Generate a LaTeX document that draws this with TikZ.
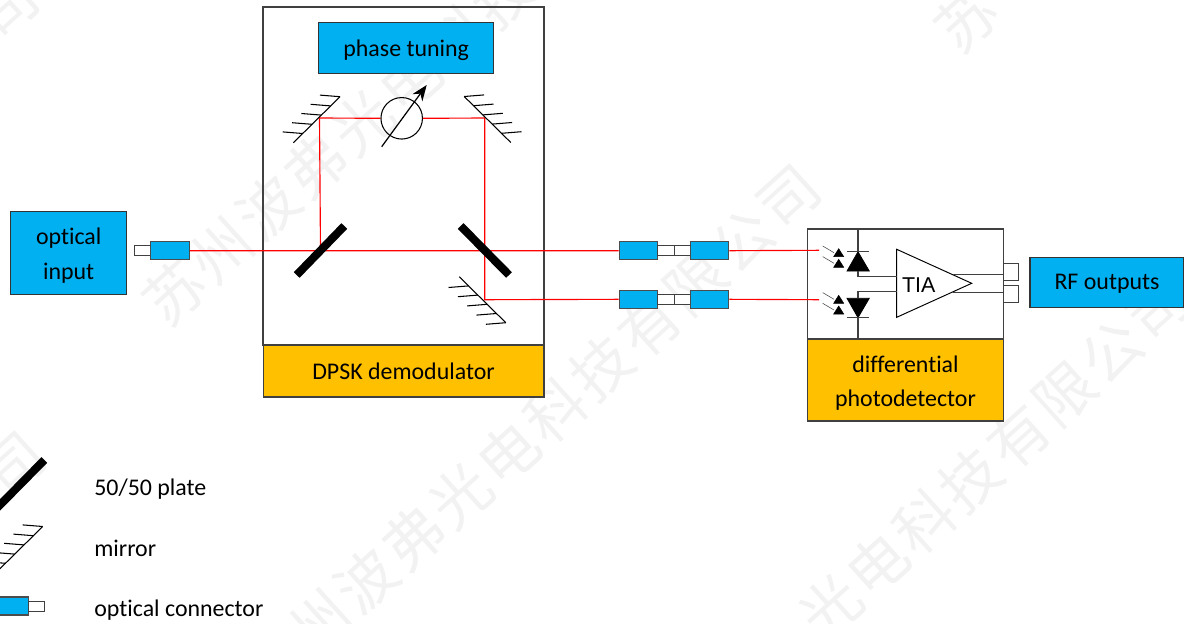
\documentclass[tikz,border=0pt]{standalone}
\usepackage{fontspec}
\usetikzlibrary{arrows.meta}
\setmainfont[Ligatures=NoCommon]{Carlito}
\newfontfamily\markfont{Noto Sans CJK SC}
\newfontfamily\arialfont{Liberation Sans}
\definecolor{boxblue}{HTML}{00B0F0}
\definecolor{boxorange}{HTML}{FFC000}
\definecolor{framegray}{HTML}{404040}
\definecolor{markgray}{HTML}{F2F2F2}
\newcommand{\toppad}[1]{\rule{0pt}{#1}}
\tikzset{
  bluebox/.style={draw=black!80, fill=boxblue, line width=.6pt, inner sep=0pt, align=center, font=\fontsize{13.6}{19.5}\selectfont},
  orangebox/.style={draw=framegray, fill=boxorange, line width=.6pt, inner sep=0pt, align=center, font=\fontsize{13.6}{19.5}\selectfont},
  framebox/.style={draw=framegray, line width=.75pt, inner sep=0pt},
  conblue/.style={draw=black!70, fill=boxblue, line width=.6pt, inner sep=0pt, minimum width=.77cm, minimum height=.36cm},
  constub/.style={draw=framegray, fill=white, line width=.5pt, inner sep=0pt, minimum width=.33cm, minimum height=.2cm},
  beam/.style={red, line width=.65pt},
  wire/.style={framegray, line width=.7pt},
  plate/.style={black, line width=4.6pt},
  legendtext/.style={anchor=west, inner sep=0pt, font=\fontsize{13.6}{15}\selectfont},
  mirror/.pic={
    \draw[black, line width=.6pt] (23.3,-23) -- (-23.3,23);
    \foreach \t in {0,.2,.4,.6,.8}
      \draw[black, line width=.6pt] (23.3-46.6*\t,-23+46*\t) -- ++(-20,-1.6);
  }
}
\begin{document}
\begin{tikzpicture}[x=.02cm,y=-.02cm]
\useasboundingbox (0,0) rectangle (1184,623);
\clip (0,0) rectangle (1184,623);
% watermark
\foreach \sx/\sy/\txt in {175/293/{苏,州,波,弗,光,电,科,技},320/623/{州,波,弗,光,电,科,技,有,限,公,司},830/607/{光,电,科,技,有,限,公,司},967/20/{苏},15/465/{司},8/8/{司}}
  \foreach \ch [count=\i from 0] in \txt
    \node[rotate=42, text=markgray, font=\markfont\fontsize{34}{34}\selectfont] at (\sx+47*\i,\sy-42.5*\i) {\ch};
% demodulator
\node[framebox, minimum width=5.62cm, minimum height=6.76cm] (demod) at (403.5,176) {};
\node[orangebox, minimum width=5.62cm, minimum height=1.04cm] (demodlabel) at (403.5,371) {DPSK demodulator};
\node[bluebox, minimum width=3.51cm, minimum height=1.03cm] (phase) at (406.2,48.2) {\toppad{11.6pt}phase tuning};
% detector
\node[framebox, minimum width=3.91cm, minimum height=2.2cm] (det) at (905.5,284) {};
\node[orangebox, minimum width=3.91cm, minimum height=1.64cm] (detlabel) at (905.5,380) {\toppad{13pt}differential\\photodetector};
% outer boxes
\node[bluebox, minimum width=2.33cm, minimum height=1.66cm] (input) at (68.7,252.8) {\toppad{12.7pt}optical\\input};
\node[bluebox, minimum width=3.08cm, minimum height=1cm] (rf) at (1107,282.5) {\toppad{9.8pt}RF outputs};
% connectors
\node[constub] (instub) at (142.7,250.2) {};
\node[conblue] (incon) at (170,250.8) {};
\node[conblue] (upa) at (638.5,250.7) {};
\node[constub] (upb) at (666,250.5) {};
\node[constub] (upc) at (682.3,250.5) {};
\node[conblue] (upd) at (709.5,250.7) {};
\node[conblue] (loa) at (638.5,299.3) {};
\node[constub] (lob) at (666,299) {};
\node[constub] (loc) at (682.3,299) {};
\node[conblue] (lod) at (709.5,299.3) {};
% beam points
\coordinate (platel) at (320.5,250.3);
\coordinate (plater) at (484.7,250.3);
\coordinate (mirtl) at (319.5,118);
\coordinate (mirtr) at (484.7,118);
\coordinate (mirb) at (484.7,299.7);
\coordinate (inup) at (819,250.3);
\coordinate (inlo) at (819,299.7);
% shifter
\node[circle, draw=black, line width=.6pt, inner sep=0pt, minimum size=.83cm] (shift) at (401.7,118.3) {};
% beams
\draw[beam] (incon.east) -- (upa.west);
\draw[beam] (platel) -- (mirtl) -- (shift.west);
\draw[beam] (shift.east) -- (mirtr) -- (mirb) -- (loa.west);
\draw[beam] (upd.east) -- (inup);
\draw[beam] (lod.east) -- (inlo);
\coordinate (arrowa) at (381.7,146.7);
\coordinate (arrowb) at (426.7,85);
\draw[-{Stealth[length=9pt,width=7pt]}, black, line width=.7pt] (arrowa) -- (arrowb);
% mirrors and plates
\pic at (316.7,119.7) {mirror};
\pic[xscale=-1] at (487.5,119.5) {mirror};
\pic[yscale=-1] at (482.5,299.7) {mirror};
\draw[plate] (344.3,226) -- (296.7,275);
\draw[plate] (460.7,226) -- (509,275);
% photodiodes
\draw[fill=black, line width=.4pt] (858,251.7) -- (869.3,271) -- (847,271) -- cycle;
\draw[fill=black, line width=.4pt] (858,317.7) -- (869.3,298.3) -- (847,298.3) -- cycle;
\draw[wire] (847,251.7) -- (869.3,251.7);
\draw[wire] (847,317.7) -- (869.3,317.7);
\foreach \yy in {252.7,263.3,299.3,310}{
  \draw[fill=black, line width=.3pt] (838.7,\yy-4) -- (843.7,\yy+4) -- (833.7,\yy+4) -- cycle;
  \draw[framegray, line width=.3pt] (822.7,\yy-6.7) -- (834,\yy);
}
% amplifier
\node[draw=none, inner sep=0pt] (tia) at (918.7,285.5) {\arialfont\fontsize{12.2}{14}\selectfont TIA};
\coordinate (ampa) at (896.7,249.3);
\coordinate (ampb) at (896.7,317.3);
\coordinate (ampc) at (971.7,283.3);
\draw[black, line width=.55pt] (ampa) -- (ampc) -- (ampb) -- cycle;
\draw[wire] (858,229) -- (858,251.7);
\draw[wire] (858,271) -- (858,276.7) -- (896.7,276.7);
\draw[wire] (896.7,291.3) -- (858,291.3) -- (858,298.3);
\draw[wire] (858,317.7) -- (858,339);
\draw[wire] (953.3,274.3) -- (1003.3,274.3);
\draw[wire] (953.3,292.3) -- (1003.3,292.3);
\draw[framegray, line width=.55pt] (1003.3,263.3) rectangle (1018.7,280.3);
\draw[framegray, line width=.55pt] (1003.3,285.7) rectangle (1018.7,302.3);
% legend
\draw[plate] (44.3,460) -- (-3,508);
\pic at (19.4,549.5) {mirror};
\node[conblue] (legcon) at (9,606) {};
\node[constub] (legstub) at (36.5,606) {};
\node[legendtext] (legplate) at (94,489) {50/50 plate};
\node[legendtext] (legmirror) at (94,548) {mirror};
\node[legendtext] (legconn) at (94,610) {optical connector};
\end{tikzpicture}
\end{document}
